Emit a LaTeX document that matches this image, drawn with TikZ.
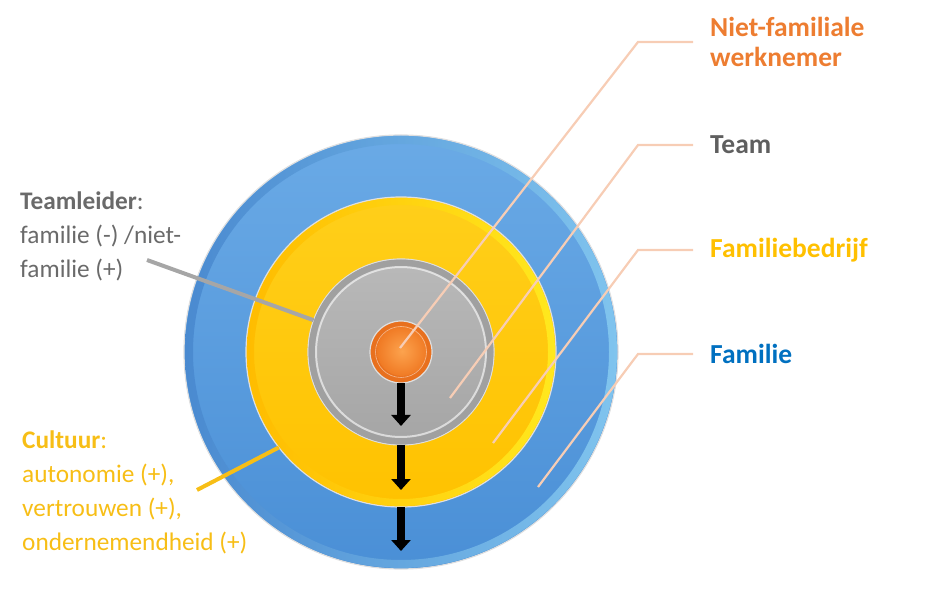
\documentclass[tikz,border=0pt]{standalone}
\usepackage{fontspec}
\setmainfont{Carlito}
\usetikzlibrary{calc,arrows.meta}
\definecolor{famTop}{HTML}{6AAAE6}
\definecolor{famBot}{HTML}{4A8FD6}
\definecolor{famRimL}{HTML}{4A8AD0}
\definecolor{famRimR}{HTML}{80C4EE}
\definecolor{bedrTop}{HTML}{FFCF1A}
\definecolor{bedrBot}{HTML}{FFC200}
\definecolor{bedrRimL}{HTML}{FFBC00}
\definecolor{bedrRimR}{HTML}{FFE81E}
\definecolor{teamTop}{HTML}{B9B9B9}
\definecolor{teamBot}{HTML}{A5A5A5}
\definecolor{teamRim}{HTML}{A0A0A0}
\definecolor{empIn}{HTML}{FCA34E}
\definecolor{empOut}{HTML}{F07A24}
\definecolor{empRim}{HTML}{E8701E}
\definecolor{leadPeach}{HTML}{F7CDB5}
\definecolor{empText}{HTML}{ED7D31}
\definecolor{teamText}{HTML}{5F5F5F}
\definecolor{bedrText}{HTML}{FFC000}
\definecolor{famText}{HTML}{0070C0}
\definecolor{leftGrey}{HTML}{6A6A6A}
\definecolor{leftLine}{HTML}{A6A6A6}
\definecolor{cultGold}{HTML}{F7BE16}
\tikzset{
  disk/.style={circle,inner sep=0pt,outer sep=0pt,draw=white!75!gray,line width=1.2pt},
  lead/.style={draw=leadPeach,line width=2.2pt},
  flow/.style={line width=8pt,-{Triangle[width=19pt,length=11pt]}},
  ringlab/.style={anchor=west,inner xsep=17pt,inner ysep=0pt,align=left,font=\fontsize{27.5}{30}\selectfont\bfseries},
  sidelab/.style={anchor=north west,inner sep=0pt,align=left,font=\fontsize{25.3}{34}\selectfont}
}
\begin{document}
\begin{tikzpicture}[x=1pt,y=1pt]
  \useasboundingbox (0,0) rectangle (950,600);
  \coordinate (O) at (401,248);
  % rings, outside in
  \node[disk,minimum size=434pt,top color=famTop,bottom color=famBot] (fam) at (O) {};
  \shade[left color=famRimL,right color=famRimR,even odd rule] (fam.center) circle (216) circle (208);
  \node[disk,minimum size=310pt,top color=bedrTop,bottom color=bedrBot] (bedr) at (O) {};
  \shade[left color=bedrRimL,right color=bedrRimR,even odd rule] (bedr.center) circle (154) circle (147);
  \node[disk,minimum size=186pt,top color=teamTop,bottom color=teamBot] (team) at (O) {};
  \draw[teamRim,line width=7pt] (team.center) circle (89);
  \draw[white,line width=2pt,opacity=.6] (team.center) circle (85);
  \node[disk,minimum size=62pt,fill=empRim] (emp) at (O) {};
  \shade[inner color=empIn,outer color=empOut] ($(emp.center)+(1,1)$) circle (25);
  \draw[white,line width=.6pt,opacity=.5] (emp.center) circle (25.5);
  % labels right
  \node[ringlab,text=empText] (empL) at (693,558) {Niet-familiale\\werknemer};
  \node[ringlab,text=teamText] (teamL) at (693,455) {Team};
  \node[ringlab,text=bedrText] (bedrL) at (693,350) {Familiebedrijf};
  \node[ringlab,text=famText] (famL) at (693,246) {Familie};
  \coordinate (p1) at ($(O)+(-1,4)$);
  \coordinate (p2) at ($(O)+(49,-46)$);
  \coordinate (p3) at ($(O)+(92,-91)$);
  \coordinate (p4) at ($(O)+(137,-135)$);
  \draw[lead] (p1) -- ([xshift=-55pt]empL.west) -- (empL.west);
  \draw[lead] (p2) -- ([xshift=-55pt]teamL.west) -- (teamL.west);
  \draw[lead] (p3) -- ([xshift=-55pt]bedrL.west) -- (bedrL.west);
  \draw[lead] (p4) -- ([xshift=-55pt]famL.west) -- (famL.west);
  % labels left
  \node[sidelab,text=leftGrey] (tl) at (20,408) {\textbf{Teamleider}:\\familie (-) /niet-\\familie (+)};
  \coordinate (tlTip) at (147,340);
  \draw[leftLine,line width=4pt] (tlTip) -- (team.160);
  \node[sidelab,text=cultGold] (cu) at (22,169) {\textbf{Cultuur}:\\autonomie (+),\\vertrouwen (+),\\ondernemendheid (+)};
  \coordinate (cuTip) at (197,110);
  \draw[cultGold,line width=4pt] (cuTip) -- (bedr.218);
  % arrows
  \draw[flow] (emp.south) -- ([yshift=19pt]team.south);
  \draw[flow] (team.south) -- ([yshift=17pt]bedr.south);
  \draw[flow] (bedr.south) -- ([yshift=18pt]fam.south);
\end{tikzpicture}
\end{document}
